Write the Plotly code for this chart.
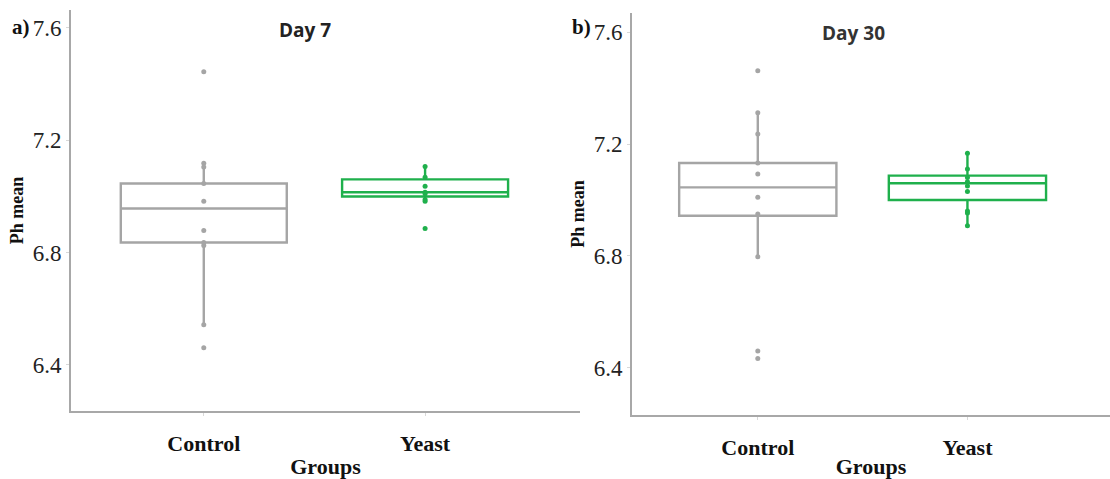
import plotly.graph_objects as go

W, H = 1110, 479

groups = ["Control", "Yeast"]

# Day 7 box statistics (Control, Yeast)
d7_q1 = [6.836, 7.000]
d7_median = [6.957, 7.015]
d7_q3 = [7.046, 7.061]
d7_low = [6.543, 6.983]
d7_high = [7.118, 7.107]
# Day 7 sample points
d7_control_pts = [7.444, 7.118, 7.105, 7.046, 6.983, 6.879, 6.836, 6.825, 6.543, 6.461]
d7_yeast_pts = [7.107, 7.068, 7.036, 7.015, 7.010, 6.989, 6.983, 6.886]

# Day 30 box statistics (Control, Yeast)
d30_q1 = [6.944, 7.000]
d30_median = [7.045, 7.060]
d30_q3 = [7.132, 7.087]
d30_low = [6.797, 6.908]
d30_high = [7.312, 7.167]
# Day 30 sample points
d30_control_pts = [7.462, 7.312, 7.236, 7.132, 7.093, 7.010, 6.950, 6.797, 6.461, 6.434]
d30_yeast_pts = [7.167, 7.111, 7.080, 7.065, 7.050, 7.030, 6.961, 6.954, 6.908]

y_ticks = [6.4, 6.8, 7.2, 7.6]
y_tick_text = ["6.4", "6.8", "7.2", "7.6"]

GREY = "#a5a5a5"
GREEN = "#1fb04c"
colors = [GREY, GREEN]

fig = go.Figure()

def add_panel(q1, med, q3, lo, hi, pts_list, xa, ya):
    for i, g in enumerate(groups):
        fig.add_trace(go.Box(
            x=[g], q1=[q1[i]], median=[med[i]], q3=[q3[i]],
            lowerfence=[lo[i]], upperfence=[hi[i]],
            width=0.75, whiskerwidth=0,
            line=dict(color=colors[i], width=2.4),
            fillcolor="rgba(255,255,255,0)",
            boxpoints=False, showlegend=False, hoverinfo="skip",
            xaxis=xa, yaxis=ya,
        ))
    for i, g in enumerate(groups):
        pts = pts_list[i]
        fig.add_trace(go.Scatter(
            x=[g] * len(pts), y=pts, mode="markers",
            marker=dict(color=colors[i], size=5),
            showlegend=False, hoverinfo="skip",
            xaxis=xa, yaxis=ya,
        ))

add_panel(d7_q1, d7_median, d7_q3, d7_low, d7_high, [d7_control_pts, d7_yeast_pts], "x", "y")
add_panel(d30_q1, d30_median, d30_q3, d30_low, d30_high, [d30_control_pts, d30_yeast_pts], "x2", "y2")

serif = "Liberation Serif"
xcommon = dict(
    type="category", categoryorder="array", categoryarray=groups,
    showline=True, linecolor="#a8a8a8", linewidth=2,
    showgrid=False, zeroline=False, automargin=False,
    ticks="outside", ticklen=3, tickcolor="#d8d8d8",
    tickfont=dict(family=serif, size=22, color="#111"),
    ticklabelstandoff=9,
)
ycommon = dict(
    showline=True, linecolor="#a8a8a8", linewidth=2,
    showgrid=False, zeroline=False, automargin=False,
    tickvals=y_ticks, ticktext=y_tick_text,
    ticks="outside", ticklen=3, tickcolor="#d8d8d8",
    tickfont=dict(family=serif, size=23, color="#222"),
    ticklabelstandoff=0,
)

fig.update_layout(
    width=W, height=H,
    margin=dict(l=0, r=0, t=0, b=0),
    paper_bgcolor="white", plot_bgcolor="white",
    xaxis=dict(xcommon, domain=[71 / W, 580 / W], range=[-0.6, 1.7], anchor="y",
               tickvals=groups, ticktext=["<b>Control</b>", "<b>Yeast</b>"],
               title=dict(text="<b>Groups</b>", font=dict(family=serif, size=22, color="#111"), standoff=8)),
    yaxis=dict(ycommon, domain=[1 - 411 / H, 1 - 10 / H], range=[6.236, 7.664], anchor="x",
               title=dict(text="<b>Ph mean</b>", font=dict(family=serif, size=18, color="#111"), standoff=4)),
    xaxis2=dict(xcommon, domain=[632 / W, 1.0], range=[-0.6, 1.68], anchor="y2",
                tickvals=groups, ticktext=["<b>Control</b>", "<b>Yeast</b>"],
                title=dict(text="<b>Groups</b>", font=dict(family=serif, size=22, color="#111"), standoff=8)),
    yaxis2=dict(ycommon, domain=[1 - 415 / H, 1 - 13 / H], range=[6.232, 7.668], anchor="x2",
                title=dict(text="<b>Ph mean</b>", font=dict(family=serif, size=18, color="#111"), standoff=4)),
    annotations=[
        dict(text="<b>Day 7</b>", x=305 / W, y=1 - 30 / H, xref="paper", yref="paper",
             showarrow=False, font=dict(family="Open Sans", size=19, color="#222"),
             xanchor="center", yanchor="middle"),
        dict(text="<b>Day 30</b>", x=853 / W, y=1 - 33 / H, xref="paper", yref="paper",
             showarrow=False, font=dict(family="Open Sans", size=19, color="#333"),
             xanchor="center", yanchor="middle"),
        dict(text="<b>a)</b>", x=10 / W, y=1 - 27 / H, xref="paper", yref="paper",
             showarrow=False, font=dict(family=serif, size=21, color="#111"),
             xanchor="left", yanchor="middle"),
        dict(text="<b>b)</b>", x=570 / W, y=1 - 27 / H, xref="paper", yref="paper",
             showarrow=False, font=dict(family=serif, size=21, color="#111"),
             xanchor="left", yanchor="middle"),
    ],
)

fig.write_html("out.html", config={"displayModeBar": False},
               post_script="document.body.style.margin='0';document.body.style.overflow='hidden';")
